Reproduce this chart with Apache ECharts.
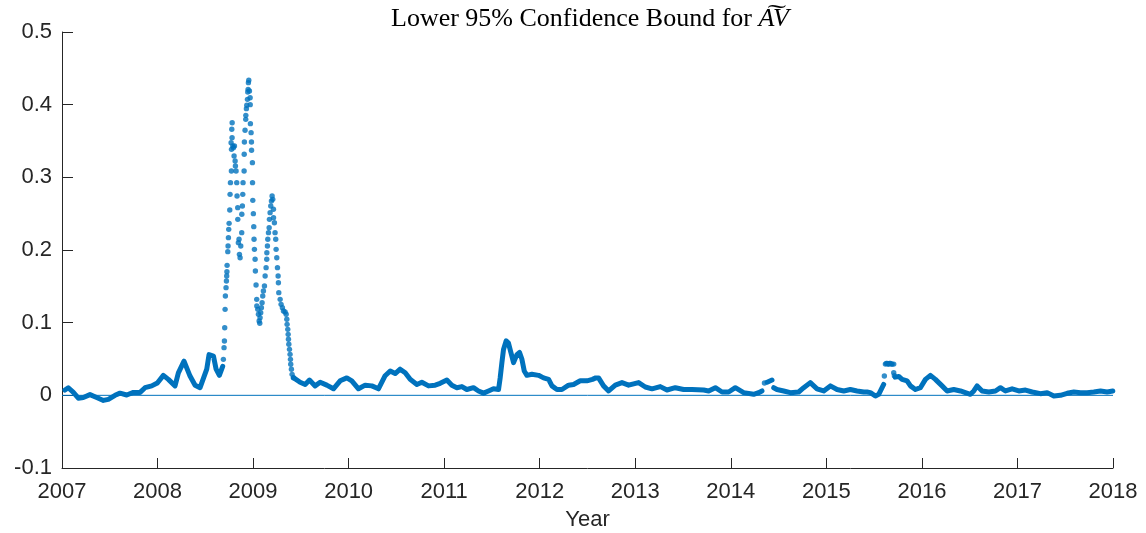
<!DOCTYPE html>
<html><head><meta charset="utf-8">
<script src="https://cdn.jsdelivr.net/npm/echarts@6/dist/echarts.min.js"></script>
<style>html,body{margin:0;padding:0;background:#fff}#c{width:1146px;height:533px}</style>
</head><body><div id="c"></div>
<script>
// ---- data (x = decimal year, y = lower 95% bound) ----
const xTickLabels = [2007,2008,2009,2010,2011,2012,2013,2014,2015,2016,2017,2018];
const yTickLabels = [-0.1,0,0.1,0.2,0.3,0.4,0.5];

const calm2007 = [[2007.031,0.0073],[2007.066,0.0105],[2007.119,0.004],[2007.171,-0.004],[2007.223,-0.003],[2007.293,0.001],[2007.363,-0.003],[2007.433,-0.007],[2007.485,-0.0055],[2007.555,0],[2007.607,0.003],[2007.677,0.0005],[2007.747,0.004],[2007.817,0.004],[2007.869,0.0105],[2007.939,0.013],[2007.998,0.017],[2008.061,0.0275],[2008.113,0.022],[2008.183,0.013],[2008.218,0.031],[2008.277,0.047],[2008.340,0.0265],[2008.393,0.014],[2008.445,0.0105],[2008.515,0.036],[2008.539,0.056],[2008.585,0.054],[2008.613,0.036],[2008.647,0.0275],[2008.682,0.040]];

const crisisDots = [[2008.689,0.0495],[2008.696,0.0656],[2008.700,0.0748],[2008.703,0.0931],[2008.707,0.1183],[2008.710,0.1367],[2008.717,0.1482],[2008.721,0.1573],[2008.724,0.1642],[2008.726,0.1702],[2008.728,0.1789],[2008.735,0.1977],[2008.738,0.2055],[2008.742,0.2170],[2008.745,0.2284],[2008.749,0.2367],[2008.756,0.2550],[2008.759,0.2766],[2008.763,0.2927],[2008.773,0.3087],[2008.774,0.3385],[2008.770,0.3477],[2008.780,0.3546],[2008.777,0.3661],[2008.781,0.3752],[2008.787,0.3431],[2008.794,0.3408],[2008.805,0.3431],[2008.801,0.3294],[2008.812,0.3225],[2008.815,0.3156],[2008.822,0.3087],[2008.829,0.2927],[2008.832,0.2743],[2008.839,0.2583],[2008.840,0.2422],[2008.846,0.2101],[2008.857,0.1940],[2008.864,0.1894],[2008.853,0.2147],[2008.871,0.2055],[2008.881,0.2239],[2008.882,0.2491],[2008.888,0.2606],[2008.892,0.2766],[2008.895,0.2927],[2008.906,0.3087],[2008.907,0.3317],[2008.909,0.3486],[2008.916,0.3647],[2008.923,0.3798],[2008.924,0.3853],[2008.930,0.3945],[2008.934,0.3991],[2008.941,0.4073],[2008.944,0.4174],[2008.948,0.4211],[2008.951,0.4303],[2008.955,0.4335],[2008.962,0.4188],[2008.969,0.4096],[2008.970,0.4000],[2008.972,0.3739],[2008.979,0.3615],[2008.983,0.3486],[2008.984,0.3372],[2008.993,0.3202],[2008.994,0.2927],[2008.997,0.2683],[2009.003,0.2500],[2009.007,0.2321],[2009.010,0.2147],[2009.014,0.2009],[2009.021,0.1872],[2009.024,0.1711],[2009.031,0.1518],[2009.038,0.1321],[2009.039,0.1229],[2009.049,0.1183],[2009.056,0.1115],[2009.063,0.1023],[2009.070,0.0991],[2009.073,0.1069],[2009.080,0.1138],[2009.087,0.1206],[2009.094,0.1275],[2009.101,0.1367],[2009.108,0.1436],[2009.119,0.1505],[2009.126,0.1642],[2009.136,0.1757],[2009.143,0.1872],[2009.144,0.1963],[2009.150,0.2055],[2009.154,0.2147],[2009.161,0.2239],[2009.168,0.2307],[2009.171,0.2422],[2009.178,0.2514],[2009.185,0.2606],[2009.192,0.2674],[2009.199,0.2743],[2009.206,0.2697],[2009.213,0.2560],[2009.214,0.2445],[2009.223,0.2376],[2009.230,0.2239],[2009.237,0.2147],[2009.241,0.2009],[2009.248,0.1894],[2009.255,0.1757],[2009.262,0.1642],[2009.265,0.1550],[2009.269,0.1413],[2009.283,0.1321],[2009.293,0.1252],[2009.307,0.1206],[2009.318,0.1161],[2009.335,0.1147],[2009.346,0.1115],[2009.353,0.1046],[2009.356,0.0977],[2009.363,0.0908],[2009.367,0.0839],[2009.370,0.0771],[2009.374,0.0702],[2009.381,0.0633],[2009.387,0.0564],[2009.391,0.0495],[2009.394,0.0427],[2009.401,0.0358],[2009.408,0.0289],[2009.422,0.0243]];

const calm2009 = [[2009.422,0.0243],[2009.440,0.022],[2009.492,0.018],[2009.545,0.015],[2009.590,0.021],[2009.649,0.013],[2009.702,0.018],[2009.771,0.014],[2009.841,0.009],[2009.911,0.020],[2009.981,0.024],[2010.033,0.020],[2010.103,0.009],[2010.173,0.014],[2010.243,0.013],[2010.312,0.009],[2010.382,0.027],[2010.435,0.0335],[2010.487,0.030],[2010.539,0.036],[2010.592,0.031],[2010.644,0.022],[2010.714,0.015],[2010.766,0.018],[2010.836,0.013],[2010.906,0.014],[2010.958,0.0165],[2011.028,0.021],[2011.080,0.014],[2011.133,0.0105],[2011.185,0.012],[2011.237,0.008],[2011.307,0.0105],[2011.359,0.006],[2011.412,0.003],[2011.464,0.006],[2011.516,0.009],[2011.569,0.008],[2011.586,0.024],[2011.604,0.045],[2011.621,0.063],[2011.649,0.075],[2011.673,0.072],[2011.698,0.059],[2011.726,0.045],[2011.761,0.056],[2011.789,0.059],[2011.813,0.05],[2011.838,0.0335],[2011.866,0.0275],[2011.918,0.029],[2011.988,0.0275],[2012.040,0.024],[2012.093,0.022],[2012.128,0.013],[2012.180,0.008],[2012.232,0.008],[2012.302,0.014],[2012.354,0.015],[2012.424,0.020],[2012.494,0.020],[2012.552,0.022],[2012.586,0.024],[2012.616,0.024],[2012.668,0.013],[2012.721,0.006],[2012.791,0.014],[2012.861,0.0175],[2012.930,0.014],[2013.035,0.0175],[2013.105,0.0115],[2013.175,0.009],[2013.262,0.012],[2013.332,0.0073],[2013.419,0.0105],[2013.506,0.008],[2013.593,0.008],[2013.716,0.0073],[2013.768,0.006],[2013.838,0.0105],[2013.908,0.0046],[2013.977,0.0046],[2014.047,0.0105],[2014.134,0.0037],[2014.239,0.0014],[2014.291,0.0037],[2014.326,0.006]];

const jump2014 = [[2014.380,0.018],[2014.431,0.021]];
const calm2014 = [[2014.449,0.0105],[2014.483,0.008],[2014.553,0.006],[2014.623,0.0037],[2014.710,0.0046],[2014.763,0.0105],[2014.832,0.0175],[2014.902,0.009],[2014.972,0.006],[2015.042,0.013],[2015.112,0.008],[2015.182,0.006],[2015.251,0.008],[2015.321,0.006],[2015.391,0.0046],[2015.426,0.0046],[2015.461,0.0037],[2015.513,-0.001],[2015.548,0.0014],[2015.583,0.0105],[2015.600,0.015]];
const looseDots = [[2014.352,0.017],[2015.607,0.0266],[2015.618,0.043],[2015.627,0.044],[2015.636,0.044],[2015.645,0.043],[2015.653,0.043],[2015.662,0.044],[2015.670,0.044],[2015.680,0.043],[2015.688,0.043],[2015.705,0.043],[2015.705,0.031],[2015.712,0.027]];
const calm2015 = [[2015.720,0.025],[2015.758,0.026],[2015.792,0.022],[2015.845,0.020],[2015.880,0.013],[2015.932,0.008],[2015.984,0.0105],[2016.037,0.022],[2016.089,0.0275],[2016.141,0.022],[2016.211,0.013],[2016.264,0.006],[2016.333,0.008],[2016.403,0.006],[2016.455,0.0037],[2016.508,0.0014],[2016.543,0.006],[2016.578,0.013],[2016.630,0.006],[2016.700,0.0046],[2016.770,0.006],[2016.822,0.0105],[2016.874,0.006],[2016.944,0.009],[2017.014,0.006],[2017.084,0.0073],[2017.154,0.0046],[2017.241,0.0023],[2017.311,0.0037],[2017.381,-0.001],[2017.450,0],[2017.520,0.0028],[2017.590,0.0046],[2017.660,0.0037],[2017.729,0.0037],[2017.799,0.0046],[2017.869,0.006],[2017.939,0.0046],[2017.998,0.006]];

const zeroLine = [[2007,0],[2018,0]];

// ---- chart ----
const BLUE = '#0072BD';
const AX = '#262626';
const chart = echarts.init(document.getElementById('c'), null, {renderer:'canvas'});
const lineSeg = d => ({type:'line', data:d, showSymbol:false, symbol:'none', silent:true,
  lineStyle:{color:BLUE, width:5, cap:'round', join:'round'}, z:3});
const dotSeg = d => ({type:'scatter', data:d, symbol:'circle', symbolSize:5.4, silent:true,
  itemStyle:{color:BLUE}, z:3});

chart.setOption({
  animation:false,
  backgroundColor:'#fff',
  title:{
    text:'Lower 95% Confidence Bound for {it|A\u0360V}',
    left:585, top:1, textAlign:'center',
    textStyle:{fontFamily:'Liberation Serif', fontSize:26, fontWeight:'normal', color:'#000',
      rich:{it:{fontFamily:'Liberation Serif', fontStyle:'italic', fontSize:26, color:'#000'}}}
  },
  grid:{left:62, right:33, top:32, bottom:65, containLabel:false, outerBoundsMode:'none'},
  xAxis:{
    type:'value', min:xTickLabels[0], max:xTickLabels[xTickLabels.length-1], interval:1,
    name:'Year', nameLocation:'middle', nameGap:41,
    nameTextStyle:{fontFamily:'Liberation Sans', fontSize:22, color:AX},
    axisLine:{show:true, onZero:false, lineStyle:{color:AX, width:1}},
    axisTick:{show:true, inside:true, length:10, lineStyle:{color:AX}},
    axisLabel:{fontFamily:'Liberation Sans', fontSize:22, color:AX, margin:13,
      formatter:v=>String(Math.round(v))},
    splitLine:{show:false}
  },
  yAxis:{
    type:'value', min:yTickLabels[0], max:yTickLabels[yTickLabels.length-1], interval:0.1,
    axisLine:{show:true, onZero:false, lineStyle:{color:AX, width:1}},
    axisTick:{show:true, inside:true, length:11, lineStyle:{color:AX}},
    axisLabel:{fontFamily:'Liberation Sans', fontSize:22, color:AX, margin:10,
      formatter:v=>String(Math.round(v*10)/10)},
    splitLine:{show:false}
  },
  series:[
    {type:'line', data:zeroLine, symbol:'none', silent:true, lineStyle:{color:BLUE, width:1}, z:2},
    lineSeg(calm2007),
    dotSeg(crisisDots),
    lineSeg(calm2009),
    lineSeg(jump2014),
    lineSeg(calm2014),
    dotSeg(looseDots),
    lineSeg(calm2015)
  ]
});
</script></body></html>
